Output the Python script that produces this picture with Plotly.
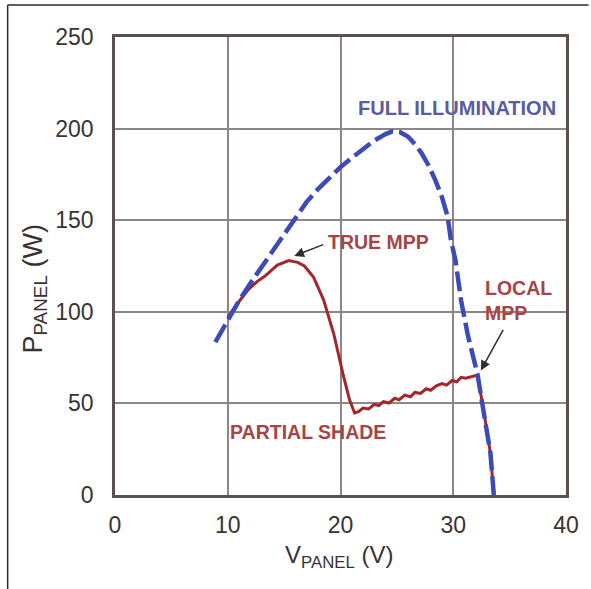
import plotly.graph_objects as go

# Full-illumination P-V curve of the panel
full_v = [8.9, 10.0, 11.0, 12.0, 13.0, 14.0, 15.0, 16.0, 17.0, 18.0, 19.0, 20.0,
          21.0, 22.0, 23.0, 24.0, 24.6, 25.3, 26.0, 26.6, 27.2, 27.8, 28.4, 29.0,
          29.5, 29.8, 30.2, 30.7, 31.3, 32.15, 32.7, 33.3, 33.6]
full_p = [83.5, 95.5, 106, 115.5, 124.5, 133, 142, 152, 160, 167, 173, 179,
          184, 189, 193.5, 197, 198.5, 198, 195.5, 191.5, 186.5, 180, 172, 162.5,
          152, 139, 128, 106, 87, 66, 46, 22.7, 0]

# Partially shaded P-V curve (two local maxima)
shade_v = [10.0, 10.8, 11.8, 12.6, 13.3, 14.4, 15.4, 16.2, 16.8, 17.6, 18.5, 19.4,
           20.2, 20.8, 21.25, 21.6, 22.0, 22.5, 23.0, 23.4, 23.8, 24.3, 24.8, 25.2,
           25.7, 26.2, 26.6, 27.1, 27.6, 28.0, 28.5, 29.0, 29.4, 29.9, 30.3, 30.7,
           31.1, 31.6, 32.15, 32.7, 33.3, 33.6]
shade_p = [97, 104, 112, 116.5, 119.5, 125.5, 128, 127, 125, 119, 106.5, 88,
           66.5, 52, 44.8, 45.5, 47.5, 47, 49.5, 48.8, 51, 50.2, 52.8, 52,
           54.5, 53.6, 56, 55.4, 58, 57.2, 59.6, 60.8, 60, 62.5, 61.8, 64.2,
           63.8, 64.6, 65.5, 46, 22.7, 0]

x_ticks = [0, 10, 20, 30, 40]
y_ticks = [0, 50, 100, 150, 200, 250]

BLUE = "#3c4bb5"
RED = "#a2262b"
RED_TXT = "#a84446"
BLUE_TXT = "#5a5c9e"
GRID = "#8e8686"
FRAME = "#5a5050"
TICK = "#3a3232"
FONT = "Liberation Sans, Arial, sans-serif"

fig = go.Figure()
fig.add_trace(go.Scatter(x=shade_v, y=shade_p, mode="lines",
                         line=dict(color=RED, width=3), hoverinfo="skip"))
fig.add_trace(go.Scatter(x=full_v, y=full_p, mode="lines",
                         line=dict(color=BLUE, width=4.5, dash="20px,6px"),
                         hoverinfo="skip"))

ann = []
ann.append(dict(x=30.35, y=211, text="FULL ILLUMINATION", showarrow=False,
                xanchor="center", yanchor="middle",
                font=dict(family=FONT, size=20, color=BLUE_TXT, weight="bold")))
ann.append(dict(x=23.4, y=138, text="TRUE MPP", showarrow=False,
                xanchor="center", yanchor="middle",
                font=dict(family=FONT, size=19.5, color=RED_TXT, weight="bold")))
ann.append(dict(x=32.6, y=106, text="LOCAL<br>MPP", showarrow=False,
                xanchor="left", yanchor="middle", align="left",
                font=dict(family=FONT, size=19.5, color=RED_TXT, weight="bold")))
ann.append(dict(x=17.1, y=34.4, text="PARTIAL SHADE", showarrow=False,
                xanchor="center", yanchor="middle",
                font=dict(family=FONT, size=19.5, color=RED_TXT, weight="bold")))
# pointer arrows
ann.append(dict(x=15.9, y=130.5, ax=18.6, ay=137, axref="x", ayref="y",
                text="", showarrow=True, arrowhead=2, arrowsize=1.3,
                arrowwidth=1.5, arrowcolor="#2e2e2e"))
ann.append(dict(x=32.45, y=68, ax=34.5, ay=91, axref="x", ayref="y",
                text="", showarrow=True, arrowhead=2, arrowsize=1.3,
                arrowwidth=1.5, arrowcolor="#2e2e2e"))
# axis titles
ann.append(dict(x=0.496, y=-0.135, xref="paper", yref="paper",
                text="V<sub>PANEL</sub> (V)", showarrow=False,
                xanchor="center", yanchor="middle",
                font=dict(family=FONT, size=24, color=TICK)))
ann.append(dict(x=-0.178, y=0.45, xref="paper", yref="paper",
                text="P<sub>PANEL</sub> (W)", showarrow=False, textangle=-90,
                xanchor="center", yanchor="middle",
                font=dict(family=FONT, size=27, color=TICK)))

shapes = [
    dict(type="line", xref="paper", yref="paper", x0=-0.238, x1=1.05,
         y0=1.07, y1=1.07, line=dict(color="#2a2a2a", width=1.5)),
    dict(type="line", xref="paper", yref="paper", x0=-0.238, x1=-0.238,
         y0=1.07, y1=-0.22, line=dict(color="#2a2a2a", width=1.5)),
]

fig.update_layout(
    width=591, height=589, autosize=False,
    margin=dict(l=115, r=18, t=37, b=94),
    paper_bgcolor="white", plot_bgcolor="white",
    showlegend=False,
    annotations=ann, shapes=shapes,
    xaxis=dict(range=[0, 40], tickvals=x_ticks, ticktext=[str(v) for v in x_ticks],
               showgrid=True, gridcolor=GRID, gridwidth=2,
               showline=True, linecolor=FRAME, linewidth=2.5, mirror=True,
               zeroline=False, ticks="", ticklabelstandoff=8,
               tickfont=dict(family=FONT, size=23, color=TICK)),
    yaxis=dict(range=[0, 250], tickvals=y_ticks, ticktext=[str(v) for v in y_ticks],
               showgrid=True, gridcolor=GRID, gridwidth=2,
               showline=True, linecolor=FRAME, linewidth=2.5, mirror=True,
               zeroline=False, ticks="", ticklabelstandoff=14,
               tickfont=dict(family=FONT, size=23, color=TICK)),
)

fig.write_html("out.html")
